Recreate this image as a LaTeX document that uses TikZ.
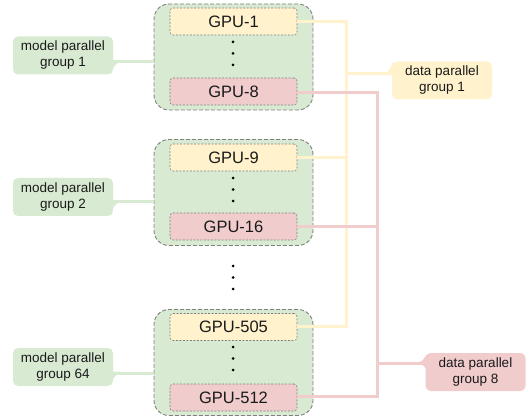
\documentclass[tikz,border=0pt]{standalone}
\usepackage{fontspec}
\setmainfont{Liberation Sans}
\definecolor{grpfill}{HTML}{D9EAD3}
\definecolor{yel}{HTML}{FFF2CC}
\definecolor{pnk}{HTML}{F0CCCC}
\definecolor{dashgray}{HTML}{808080}
\definecolor{txt}{HTML}{1A1A1A}
\tikzset{
  grp/.style={draw=dashgray, dashed, line width=0.9pt, dash pattern=on 4pt off 2pt, fill=grpfill, rounded corners=15pt, minimum width=159pt, minimum height=106pt, inner sep=0pt},
  gpu/.style={draw=dashgray, line width=0.6pt, dash pattern=on 2pt off 1.5pt, rounded corners=3pt, minimum width=127pt, minimum height=27pt, inner sep=0pt, font=\fontsize{16.5}{19}\selectfont, text=txt},
  gpuy/.style={gpu, fill=yel},
  gpup/.style={gpu, fill=pnk},
  lbl/.style={rounded corners=5pt, minimum width=100pt, minimum height=38pt, inner sep=0pt, align=center, font=\fontsize{13.5}{16}\selectfont, text=txt},
  lblg/.style={lbl, fill=grpfill},
  lbly/.style={lbl, fill=yel},
  lblp/.style={lbl, fill=pnk},
  dotc/.style={circle, fill=black, inner sep=0pt, minimum size=3pt},
  lnG/.style={draw=grpfill, line width=3pt},
  lnY/.style={draw=yel, line width=3pt},
  lnP/.style={draw=pnk, line width=3pt},
}
\begin{document}
\begin{tikzpicture}[x=1pt,y=-1pt]
\useasboundingbox (0,0) rectangle (527,419);
% group boxes
\node[grp] (G1) at (233.5,57) {};
\node[grp] (G2) at (233.5,192.5) {};
\node[grp] (G3) at (233.5,362.5) {};
% GPUs
\node[gpuy] (g1) at (233.5,21.5) {GPU-1};
\node[gpup] (g8) at (233.5,91.5) {GPU-8};
\node[gpuy] (g9) at (233.5,157.5) {GPU-9};
\node[gpup] (g16) at (233.5,226.5) {GPU-16};
\node[gpuy] (g505) at (233.5,327) {GPU-505};
\node[gpup] (g512) at (233.5,397.5) {GPU-512};
% dots
\foreach \y [count=\i] in {42,53.5,65} \node[dotc] (da\i) at (233,\y) {};
\foreach \y [count=\i] in {178,189.5,201} \node[dotc] (db\i) at (233,\y) {};
\foreach \y [count=\i] in {266,277.5,289} \node[dotc] (dc\i) at (233,\y) {};
\foreach \y [count=\i] in {347,358.5,370} \node[dotc] (dd\i) at (233,\y) {};
% labels
\node[lblg] (m1) at (63,55.5) {model parallel\\group 1};
\node[lblg] (m2) at (63,197) {model parallel\\group 2};
\node[lblg] (m3) at (63,367) {model parallel\\group 64};
\node[lbly] (d1) at (442,80.5) {data parallel\\group 1};
\node[lblp] (d8) at (475.5,372) {data parallel\\group 8};
% junction coordinates
\coordinate (yA) at (346,22);
\coordinate (yB) at (346,327);
\coordinate (yC) at (346,74);
\coordinate (pA) at (377,92.5);
\coordinate (pB) at (377,396);
\coordinate (pC) at (377,363);
% green connectors
\path[lnG] (m1.east |- 0,62) -- (G1.west |- 0,62);
\path[lnG] (m2.east |- 0,202) -- (G2.west |- 0,202);
\path[lnG] (m3.east |- 0,373) -- (G3.west |- 0,373);
\foreach \n/\y in {m1/62,m2/202,m3/373}{
  \fill[grpfill] (\n.east |- 0,\y) ++(-1,-1.5) -- ++(0,9) .. controls +(2,-4) and +(-2,0) .. ++(8,-7.5) -- ++(0,-1.5) -- cycle;
}
% yellow connectors
\path[lnY] (g1.east |- yA) -- (yA) -- (yB) -- (g505.east |- yB);
\path[lnY] (g9.east) -- (g9.east -| yA);
\path[lnY] (yC) -- (d1.west |- yC);
\fill[yel] (d1.west |- yC) ++(1,1.5) -- ++(0,-13) .. controls +(-2,6) and +(2,0) .. ++(-8,11.5) -- ++(0,1.5) -- cycle;
% pink connectors
\path[lnP] (g8.east |- pA) -- (pA) -- (pB) -- (g512.east |- pB);
\path[lnP] (g16.east) -- (g16.east -| pA);
\path[lnP] (pC) -- (d8.west |- pC);
\fill[pnk] (d8.west |- pC) ++(1,1.5) -- ++(0,-10) .. controls +(-2,5) and +(2,0) .. ++(-8,8.5) -- ++(0,1.5) -- cycle;
\fill[pnk] (d8.west |- pC) ++(1,-1.5) -- ++(0,8) .. controls +(-2,-4) and +(2,0) .. ++(-8,-6.5) -- ++(0,-1.5) -- cycle;
\end{tikzpicture}
\end{document}
